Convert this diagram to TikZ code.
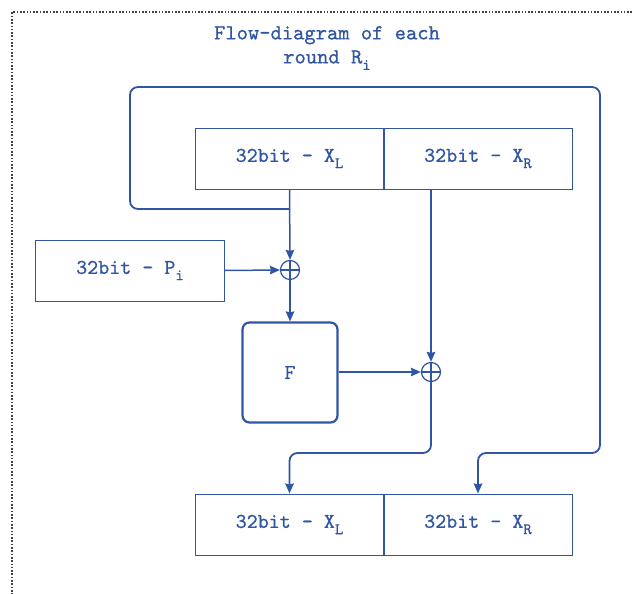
\documentclass[tikz,border=0pt]{standalone}
\usepackage{fontspec}
\usetikzlibrary{arrows.meta}
\newfontfamily\flowfont[FakeBold=0.8]{lmmono10-regular.otf}
\definecolor{flowblue}{HTML}{2F55A4}
\newcommand{\lowidx}[1]{\raisebox{-0.3em}{\fontsize{16}{17}\selectfont #1}}

\begin{document}
\begin{tikzpicture}[x=1pt,y=-1pt,
  half/.style={draw=flowblue,line width=1pt,minimum width=189pt,minimum height=61pt,
    inner sep=0pt,text=flowblue,font=\flowfont\fontsize{21}{24}\selectfont},
  xorop/.style={circle,draw=flowblue,line width=1.2pt,minimum size=19pt,inner sep=0pt,
    path picture={\draw[flowblue,line width=1.2pt]
      (path picture bounding box.north) -- (path picture bounding box.south)
      (path picture bounding box.west) -- (path picture bounding box.east);}},
  roundfn/.style={draw=flowblue,line width=2.2pt,rounded corners=7pt,minimum width=95pt,
    minimum height=100pt,inner sep=0pt,text=flowblue,font=\flowfont\fontsize{21}{24}\selectfont},
  flow/.style={flowblue,line width=1.5pt,-{Stealth[length=10pt,width=8.5pt,inset=1pt]}},
  feedback/.style={flow,line width=1.8pt,rounded corners=8pt},
  border/.style={black!75,line width=1.6pt,dash pattern=on 1.6pt off 1.7pt}]
\useasboundingbox (0,0) rectangle (632,594);
% outer frame and caption
\draw[border] (632,12) -- (12,12) -- (12,594);
\node[text=flowblue,align=center,font=\flowfont\fontsize{21.5}{24}\selectfont] (title) at (327,48)
  {Flow-diagram of each\\round R\lowidx{i}};

% state before the round
\node[half] (xl) at (289.5,158.5) {32bit - X\lowidx{L}};
\node[half] (xr) at (478,158.5) {32bit - X\lowidx{R}};
\node[half] (pi) at (130,270.5) {32bit - P\lowidx{i}};
\node[xorop] (x1) at (290,270) {};
\node[roundfn] (f) at (290,372.5) {F};
\node[xorop] (x2) at (431,372) {};

% state after the round
\node[half] (xl2) at (289.5,524.5) {32bit - X\lowidx{L}};
\node[half] (xr2) at (478,524.5) {32bit - X\lowidx{R}};

\coordinate (split) at (290,209);
\draw[flow] (xl.south) -- (x1.north);
\draw[flow] (pi.east) -- (x1.west);
\draw[flow] (x1.south) -- (f.north);
\draw[flow] (x2 |- xr.south) -- (x2.north);
\draw[flow] (f.east |- x2) -- (x2.west);
\draw[feedback] (x2.south) -- (431,453) -| (xl2.north);
\draw[feedback] (split) -- (130,209) -- (130,87) -- (600,87) -- (600,453) -| (xr2.north);
\end{tikzpicture}
\end{document}
